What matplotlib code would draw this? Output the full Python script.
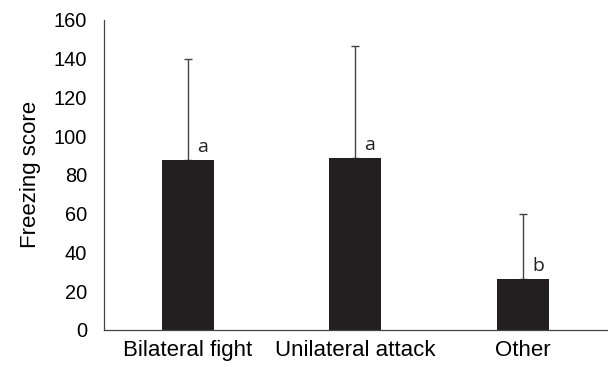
import matplotlib
matplotlib.use("Agg")
import matplotlib.pyplot as plt
import numpy as np

categories = ["Bilateral fight", "Unilateral attack", "Other"]
means = [87.7, 88.8, 26.3]
errors = [52.3, 57.8, 33.6]
letters = ["a", "a", "b"]

plt.rcParams['font.family'] = ['Liberation Sans', 'DejaVu Sans']
fig = plt.figure(figsize=(6.08, 3.67), dpi=100)
ax = fig.add_axes([0.171, 0.101, 0.827, 0.845])
x = np.arange(len(categories))
ax.bar(x, means, width=0.31, color='#231f20', zorder=2)
ax.errorbar(x, means, yerr=[np.zeros(3), errors], fmt='none', ecolor='#444444',
            elinewidth=1.0, capsize=3, capthick=1.0, zorder=1)
for xi, m, l in zip(x, means, letters):
    ax.text(xi + 0.055, m + 2.0, l, fontsize=14, family=['Open Sans', 'DejaVu Sans'],
            ha='left', va='bottom', color='#231f20')
ax.set_xlim(-0.5, 2.5)
ax.set_ylim(0, 160)
ax.set_yticks(np.arange(0, 161, 20))
ax.set_xticks(x)
ax.set_xticklabels(categories, fontsize=16)
ax.tick_params(axis='x', length=0, pad=7)
ax.tick_params(axis='y', length=0, labelsize=14.4, pad=12)
ax.spines['top'].set_visible(False)
ax.spines['right'].set_visible(False)
for s in ['left', 'bottom']:
    ax.spines[s].set_color('#444444')
    ax.spines[s].set_linewidth(0.9)
ax.set_ylabel("Freezing score", fontsize=16, labelpad=9)
fig.savefig("out.png", dpi=100)
